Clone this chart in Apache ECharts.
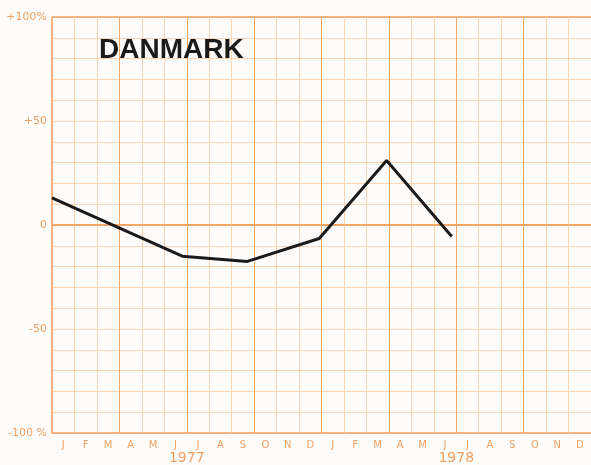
<!DOCTYPE html>
<html>
<head>
<meta charset="utf-8">
<script src="https://cdn.jsdelivr.net/npm/echarts@6/dist/echarts.min.js"></script>
<style>
html,body{margin:0;padding:0;background:#fdfcfa;}
#chart{width:591px;height:465px;}
</style>
</head>
<body>
<div id="chart"></div>
<script>
// Data
const title = 'DANMARK';
const monthLabels = ['J','F','M','A','M','J','J','A','S','O','N','D','J','F','M','A','M','J','J','A','S','O','N','D'];
const yearLabels = ['1977','1978'];
// position of each reading, in months from January 1977
const pointMonths = [0, 5.8, 8.7, 11.9, 14.9, 17.8];
// change, percent
const changePct = [13, -15, -17.5, -6.5, 31, -5.5];
const quarterMonths = [3, 6, 9, 12, 15, 18, 21];
const yTickLabels = {'100':'+100%','50':'+50','0':'0','-50':'-50','-100':'-100 %'};

const ORANGE = '#f2a062';
const LIGHT = '#f9d5b2';
const MID = '#f5a866';

const chart = echarts.init(document.getElementById('chart'));
chart.setOption({
  backgroundColor: '#fdfcfa',
  animation: false,
  title: {
    text: title, left: 94, top: 31,
    textStyle: {fontFamily: 'Liberation Sans', fontWeight: 'bold', fontSize: 28, color: '#1a1a1a'}
  },
  grid: {left: 52, right: 0, top: 17, bottom: 32},
  xAxis: [
    {
      type: 'value', min: 0, max: 24, interval: 1, position: 'bottom',
      axisLine: {show: true, lineStyle: {color: ORANGE, width: 1.5}},
      axisTick: {show: false}, axisLabel: {show: false},
      splitLine: {show: true, lineStyle: {color: LIGHT, width: 1}}
    },
    {
      type: 'category', data: monthLabels, boundaryGap: true, position: 'bottom',
      axisLine: {show: false}, axisTick: {show: false}, splitLine: {show: false},
      axisLabel: {color: ORANGE, fontSize: 10, margin: 7, fontFamily: 'DejaVu Sans', interval: 0}
    },
    {
      type: 'category', data: yearLabels, boundaryGap: true, position: 'bottom',
      axisLine: {show: false}, axisTick: {show: false}, splitLine: {show: false},
      axisLabel: {color: ORANGE, fontSize: 14, margin: 18, fontFamily: 'DejaVu Sans', interval: 0}
    }
  ],
  yAxis: [
    {
      type: 'value', min: -100, max: 100, interval: 10,
      axisLine: {show: true, lineStyle: {color: ORANGE, width: 1.5}},
      axisTick: {show: false},
      axisLabel: {
        color: ORANGE, fontSize: 11, margin: 5, fontFamily: 'DejaVu Sans',
        formatter: v => yTickLabels[String(v)] || ''
      },
      splitLine: {show: true, lineStyle: {color: LIGHT, width: 1}}
    },
    {
      type: 'value', min: -100, max: 100, interval: 100, position: 'left',
      axisLine: {show: false}, axisTick: {show: false}, axisLabel: {show: false},
      splitLine: {show: true, lineStyle: {color: ORANGE, width: 1.5}}
    }
  ],
  series: [{
    type: 'line', xAxisIndex: 0, yAxisIndex: 0,
    data: pointMonths.map((m, i) => [m, changePct[i]]),
    symbol: 'none',
    lineStyle: {color: '#1a1a1a', width: 3},
    z: 5,
    markLine: {
      silent: true, symbol: 'none', label: {show: false}, z: 1,
      lineStyle: {color: MID, width: 1, type: 'solid'},
      data: quarterMonths.map(m => ({xAxis: m}))
    }
  }]
});
</script>
</body>
</html>
